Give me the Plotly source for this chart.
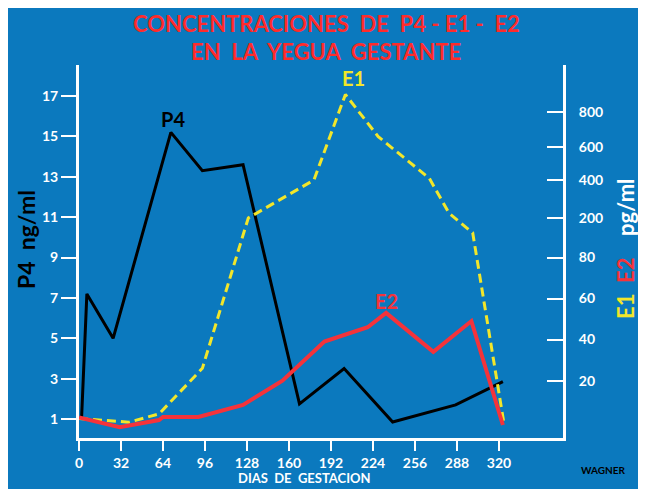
import plotly.graph_objects as go
import numpy as np

# ---- data ----
days_p4 = [2, 6, 26, 70, 94, 125, 168, 202, 239, 287, 323]
p4_ng = [1.1, 7.2, 5.0, 15.2, 13.3, 13.6, 1.75, 3.5, 0.85, 1.7, 2.85]

days_e1 = [0, 38, 61, 94, 129, 179, 203, 228, 267, 282, 300, 324]
e1_pg = [4, 2.5, 6, 26, 200, 400, 900, 660, 410, 225, 155, 1.3]

days_e2 = [0, 31, 61, 64, 91, 125, 155, 187, 220, 234, 270, 299, 323]
e2_pg = [4.5, 0.4, 3.4, 4.7, 4.7, 9.8, 20, 39, 46, 53, 34, 49, 1.3]

x_ticks = [0, 32, 64, 96, 128, 160, 192, 224, 256, 288, 320]
left_ticks = [1, 3, 5, 7, 9, 11, 13, 15, 17]
right_tick_labels = [20, 40, 60, 80, 200, 400, 600, 800]

# broken (non-linear) right scale of the original drawing: pg/ml -> axis position
scale_pg = [0, 20, 40, 60, 80, 200, 400, 600, 800, 1000]
scale_pos = [0.55, 2.90, 4.94, 6.97, 9.0, 10.96, 12.84, 14.47, 16.21, 17.95]


def to_pos(v):
    return list(np.interp(v, scale_pg, scale_pos))


# ---- layout geometry (page pixels; the page body adds an 8px offset) ----
OFF = 8
W, H = 646 - OFF, 489 - OFF
L, R, T, B = 79, 563, 65, 438          # plot frame in page pixels
PW, PH = R - L, B - T


def px(x):
    return (x - L) / PW


def py(y):
    return (B - y) / PH


BLUE = "#0b79be"
YEL = "#f2e62a"
RED = "#f5333a"
FONT = "Lato"

fig = go.Figure()

fig.add_trace(go.Scatter(x=days_e1, y=to_pos(e1_pg), mode="lines", yaxis="y2",
                         line=dict(color=YEL, width=3, dash="9px,5px"), showlegend=False))
fig.add_trace(go.Scatter(x=days_e2, y=to_pos(e2_pg), mode="lines", yaxis="y2",
                         line=dict(color=RED, width=4), showlegend=False))
fig.add_trace(go.Scatter(x=days_p4, y=p4_ng, mode="lines",
                         line=dict(color="black", width=3), showlegend=False))

tickfont = dict(family=FONT, size=14, color="white", weight="bold")

fig.update_layout(
    width=W, height=H,
    margin=dict(l=L - OFF, r=W - (R - OFF), t=T - OFF, b=H - (B - OFF), pad=0),
    paper_bgcolor=BLUE,
    plot_bgcolor=BLUE,
    xaxis=dict(range=[0, 368.8], tickvals=x_ticks, showgrid=False, zeroline=False,
               showline=True, linecolor="white", linewidth=3,
               ticks="outside", ticklen=10, tickwidth=2, tickcolor="white",
               tickfont=tickfont),
    yaxis=dict(range=[0.06, 18.54], tickvals=left_ticks, showgrid=False, zeroline=False,
               showline=True, linecolor="white", linewidth=3,
               ticks="outside", ticklen=15, tickwidth=2, tickcolor="white",
               tickfont=tickfont),
    yaxis2=dict(range=[0.06, 18.54], overlaying="y", side="right",
                tickvals=to_pos(right_tick_labels), ticktext=[str(v) for v in right_tick_labels],
                showgrid=False, zeroline=False,
                showline=True, linecolor="white", linewidth=3,
                ticks="inside", ticklen=16, tickwidth=2, tickcolor="white",
                ticklabelstandoff=10,
                tickfont=tickfont),
)

ann = []
title_font = dict(family=FONT, size=22, color="#ff2b2b", weight="bold")
ann.append(dict(text="CONCENTRACIONES  DE  P4 - E1 -  E2", x=px(326), y=py(24),
                font=title_font))
ann.append(dict(text="EN  LA  YEGUA  GESTANTE", x=px(326), y=py(52), font=title_font))
ann.append(dict(text="P4  ng/ml", x=px(26), y=py(240), textangle=-90,
                font=dict(family=FONT, size=23, color="black", weight="bold")))
ann.append(dict(text="<span style='color:%s'>E1</span>  <span style='color:%s'>E2</span>    pg/ml" % (YEL, RED),
                x=px(625), y=py(249), textangle=-90,
                font=dict(family=FONT, size=22, color="white", weight="bold")))
ann.append(dict(text="DIAS  DE  GESTACION", x=px(304), y=py(478),
                font=dict(family=FONT, size=13, color="white", weight="bold")))
ann.append(dict(text="WAGNER", x=px(603), y=py(470),
                font=dict(family=FONT, size=10, color="black", weight="bold")))
for a in ann:
    a.update(xref="paper", yref="paper", showarrow=False, xanchor="center", yanchor="middle")

# series labels in data coordinates
ann.append(dict(text="P4", x=72, y=15.85, xref="x", yref="y", showarrow=False,
                font=dict(family=FONT, size=20, color="black", weight="bold")))
ann.append(dict(text="E1", x=209, y=17.9, xref="x", yref="y", showarrow=False,
                font=dict(family=FONT, size=20, color=YEL, weight="bold")))
ann.append(dict(text="E2", x=234, y=6.85, xref="x", yref="y", showarrow=False,
                font=dict(family=FONT, size=20, color=RED, weight="bold")))

fig.update_layout(annotations=ann)
fig.write_html("out.html")
